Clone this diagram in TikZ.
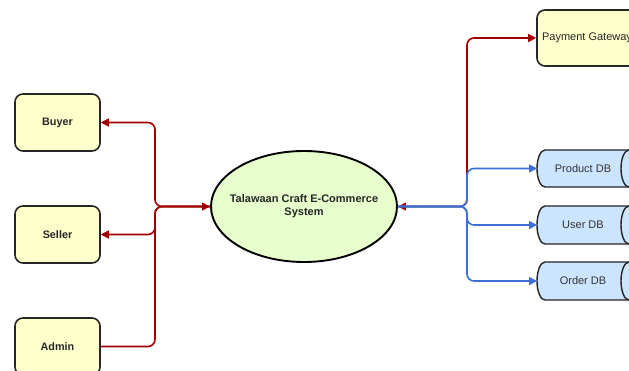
\documentclass[tikz,border=0pt]{standalone}
\usepackage{fontspec}
\setmainfont{Liberation Sans}
\usetikzlibrary{shapes.geometric,arrows.meta}
\definecolor{boxfill}{HTML}{FFFFCC}
\definecolor{sysfill}{HTML}{E6FFCC}
\definecolor{dbfill}{HTML}{CCE5FF}
\definecolor{linkred}{HTML}{A20000}
\definecolor{linkblue}{HTML}{3B6FD6}
\tikzset{
  actor/.style={draw=black!85, line width=1.6pt, fill=boxfill, rounded corners=8pt,
    minimum width=85pt, minimum height=57pt, inner sep=0pt,
    font=\fontsize{10.8}{12}\selectfont\bfseries, text=black!85},
  gateway/.style={draw=black!85, line width=1.6pt, fill=boxfill, rounded corners=8pt,
    minimum width=100pt, minimum height=56pt, inner sep=0pt,
    font=\fontsize{11}{12}\selectfont, text=black!85},
  system/.style={ellipse, draw=black, line width=1.9pt, fill=sysfill,
    minimum width=186pt, minimum height=111pt, inner sep=0pt},
  systext/.style={inner sep=0pt, align=center,
    font=\fontsize{11}{13}\selectfont\bfseries, text=black!85},
  dblabel/.style={inner sep=0pt, font=\fontsize{11}{12}\selectfont, text=black!80},
  dbshape/.style={draw=black!85, line width=1.4pt, fill=dbfill},
  redlink/.style={draw=linkred, line width=1.6pt, rounded corners=7pt},
  bluelink/.style={draw=linkblue, line width=1.6pt, rounded corners=7pt},
  >={Triangle[length=8pt,width=8pt]}
}
\newcommand{\dbcyl}[2]{%
  % horizontal cylinder with top edge at y=#1 and height #2
  \path[dbshape] (545,#1) -- (629,#1)
    arc[start angle=270, end angle=450, x radius=8, y radius=#2/2]
    -- (545,#1+#2)
    arc[start angle=90, end angle=270, x radius=8, y radius=#2/2] -- cycle;
  \draw[dbshape, fill=none] (629,#1)
    arc[start angle=270, end angle=90, x radius=8, y radius=#2/2];
}
\begin{document}
\begin{tikzpicture}[x=1pt, y=-1pt]
  \clip (0,0) rectangle (629,370);
  \fill[white] (0,0) rectangle (629,370);

  % actors on the left
  \node[actor] (buyer) at (57.5,122.5) {Buyer};
  \node[actor] (seller) at (57.5,234.5) {Seller};
  \node[actor] (admin) at (57.5,346.5) {Admin};

  % central system
  \node[system] (sys) at (304,206.5) {};
  \node[systext] (systitle) at (sys.center) {Talawaan Craft E-Commerce\\System};

  % external gateway
  \node[gateway] (pay) at (587,38) {Payment Gateway};

  % data stores
  \dbcyl{150}{37}
  \dbcyl{206}{38}
  \dbcyl{262}{38}
  \node[dblabel] (proddb) at (583,168.5) {Product DB};
  \node[dblabel] (userdb) at (583,225) {User DB};
  \node[dblabel] (orderdb) at (583,281) {Order DB};
  \coordinate (prodin) at (537,168.5);
  \coordinate (userin) at (537,225);
  \coordinate (orderin) at (537,281);

  % junction points of the orthogonal connectors
  \coordinate (jl) at (155,206.5);
  \coordinate (jr) at (467,206.5);

  % left connectors
  \draw[redlink, ->] (sys.west) -- (jl) |- (buyer.east);
  \draw[redlink, ->] (sys.west) -- (jl) |- (seller.east);
  \draw[redlink, ->] (admin.east) -| (jl) -- (sys.west);

  % right connectors
  \draw[redlink, <->] (sys.east) -- (jr) |- (pay.west);
  \draw[bluelink, ->] (sys.east) -- (jr) |- (prodin);
  \draw[bluelink, ->] (sys.east) -- (jr) |- (userin);
  \draw[bluelink, ->] (sys.east) -- (jr) |- (orderin);
\end{tikzpicture}
\end{document}
